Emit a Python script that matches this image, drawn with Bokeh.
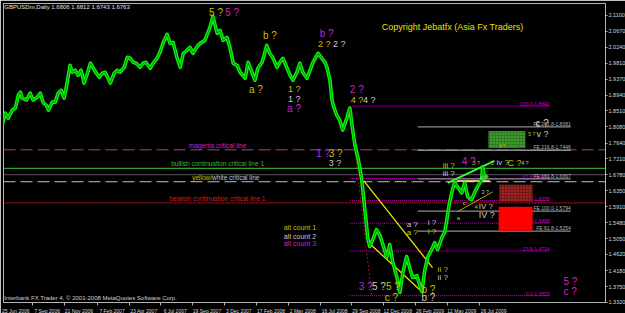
from bokeh.plotting import figure
from bokeh.models import Range1d, FixedTicker, NumeralTickFormatter, Span, Label, ColumnDataSource
from bokeh.core.properties import value
from bokeh.embed import file_html
from bokeh.resources import INLINE

# ---------------- data (x = calendar days after 25 Jun 2006, y = GBPUSD price) ----------------
bar_day = [2, 9, 16, 26, 33, 40, 45, 49, 59, 68,
           75, 85, 92, 99, 106, 111, 120, 127, 134, 141,
           148, 155, 162, 167, 174, 181, 188, 195, 203, 210,
           217, 224, 231, 238, 245, 257, 266, 273, 280, 290,
           297, 304, 311, 318, 327, 334, 341, 351, 358, 367,
           374, 382, 391, 398, 405, 414, 422, 429, 438, 445,
           452, 462, 469, 480, 492, 499, 509, 516, 523, 532,
           539, 547, 556, 563, 575, 582, 591, 598, 605, 615,
           626, 633, 641, 650, 657, 664, 674, 681, 688, 697,
           704, 711, 721, 728, 735, 747, 756, 763, 768, 775,
           780, 784, 791, 798, 805, 815, 822, 827, 834, 841,
           845, 850, 855, 860, 864, 869, 876, 885, 893, 900,
           909, 916, 923, 933, 940, 947, 956, 963, 970, 980,
           987, 992, 999, 1006, 1015, 1022, 1029, 1039, 1046, 1050,
           1057, 1064, 1069, 1076, 1086, 1093, 1100, 1109, 1116, 1123,
           1133, 1135, 1140, 1147]
close = [1.8128, 1.8452, 1.8317, 1.8534, 1.8588, 1.8939, 1.9020, 1.8858, 1.8804, 1.8993,
         1.8804, 1.8885, 1.8993, 1.8723, 1.8669, 1.8534, 1.8750, 1.8750, 1.8993, 1.9074,
         1.8858, 1.9263, 1.9749, 1.9560, 1.9614, 1.9479, 1.9614, 1.9263, 1.9533, 1.9803,
         1.9668, 1.9533, 1.9425, 1.9533, 1.9560, 1.9263, 1.9533, 1.9614, 1.9560, 1.9695,
         1.9965, 1.9938, 1.9830, 1.9803, 1.9695, 1.9803, 1.9830, 1.9668, 1.9803, 1.9938,
         2.0100, 2.0370, 2.0587, 2.0343, 2.0370, 1.9965, 1.9695, 2.0073, 2.0154, 2.0235,
         2.0073, 2.0262, 2.0343, 2.0424, 2.0776, 2.1073, 2.0614, 2.0695, 2.0424, 2.0506,
         2.0235, 1.9803, 1.9749, 1.9560, 1.9398, 1.9830, 1.9560, 1.9344, 1.9668, 1.9830,
         2.0289, 2.0073, 1.9938, 1.9695, 1.9830, 1.9938, 1.9668, 1.9479, 1.9344, 1.9560,
         1.9803, 1.9560, 1.9398, 1.9614, 1.9830, 2.0073, 1.9938, 1.9830, 1.9695, 1.9344,
         1.8804, 1.8615, 1.8398, 1.8263, 1.7993, 1.8317, 1.8588, 1.8128, 1.7588, 1.7237,
         1.6994, 1.6642, 1.6102, 1.5562, 1.5076, 1.4833, 1.5022, 1.5292, 1.5130, 1.4887,
         1.4535, 1.4887, 1.4427, 1.3995, 1.3590, 1.4130, 1.4562, 1.4265, 1.3995, 1.4049,
         1.3779, 1.3617, 1.4211, 1.4562, 1.4752, 1.4941, 1.4752, 1.5076, 1.5238, 1.5508,
         1.6021, 1.6372, 1.6561, 1.6453, 1.6291, 1.6561, 1.6183, 1.6102, 1.6291, 1.6453,
         1.6642, 1.6994, 1.6697, 1.6763]

tick_labels = ["25 Jun 2006", "7 Sep 2006", "21 Nov 2006", "7 Feb 2007", "23 Apr 2007", "6 Jul 2007",
               "19 Sep 2007", "3 Dec 2007", "17 Feb 2008", "2 May 2008", "16 Jul 2008", "29 Sep 2008",
               "12 Dec 2008", "26 Feb 2009", "12 May 2009", "26 Jul 2009"]
tick_day = [0, 74, 149, 227, 302, 376, 451, 526, 602, 677, 752, 827, 901, 977, 1052, 1127]

price_ticks = [2.1100, 2.0670, 2.0240, 1.9810, 1.9370, 1.8940, 1.8510, 1.8080, 1.7640, 1.7210,
               1.6780, 1.6350, 1.5910, 1.5480, 1.5050, 1.4620, 1.4180, 1.3750, 1.3320]

# critical horizontal lines
crit_price = [1.7457, 1.6954, 1.6783, 1.6592, 1.6018]
crit_label = ["1.7457", "1.6954", "1.6783", "1.6592", "1.6018"]

# fibonacci retracement (magenta) and expansion (grey) levels
fib_price = [1.8642, 1.6679, 1.6078, 1.5468, 1.4714, 1.3503]
fib_label = ["100.0-1.8642", "61.8-1.6679", "50.0-1.6078", "38.2-1.5468", "23.6-1.4714", "0.0-1.3503"]
fib_from, fib_to = 822, 1293
fe_price = [1.8081, 1.7446, 1.6667, 1.5794, 1.5254]
fe_label = ["FE 261.8-1.8081", "FE 216.8-1.7446", "FE 161.8-1.6667", "FE 100.0-1.5794", "FE 61.8-1.5254"]
fe_from, fe_to = 982, 1343

# target zones
zone_left = [1149, 1175, 1173]
zone_right = [1236, 1253, 1253]
zone_top = [1.7966, 1.6507, 1.5913]
zone_bottom = [1.7507, 1.6048, 1.5265]

# trend lines
tl_x0 = [855, 869, 1053, 1074, 1076]
tl_x1 = [1017, 994, 1163, 1152, 1159]
tl_y0 = [1.6615, 1.4913, 1.6561, 1.6615, 1.5778]
tl_y1 = [1.4265, 1.3590, 1.7156, 1.6615, 1.6318]
fib_anchor_day = [822, 874]
fib_anchor_price = [1.8642, 1.3482]

# Elliott wave labels
wave_text = ["5 ?", "5 ?", "b ?", "b ?", "2 ?", "2 ?", "a ?", "1 ?", "1 ?", "a ?",
             "2 ?", "4 ?", "4 ?", "1 ?", "3 ?", "3 ?", "iii ?", "iii ?", "4 ?", "3 ?",
             "5", "iv ?", "C ?", "4 ?", "c ?", "5 ?", "v ?", "3 ?", "4 ?", "2 ?",
             "c", "a", "4", "IV ?", "IV ?", "a ?", "a ?", "i ?", "i ?", "ii ?",
             "ii ?", "3 ?", "5 ?", "5 ?", "c ?", "b ?", "b ?", "5 ?", "c ?"]
wave_day = [490, 528, 617, 751, 747, 782, 584, 676, 676, 674,
            822, 824, 853, 742, 772, 772, 1041, 1041, 1086, 1112,
            1154, 1168, 1194, 1227, 1260, 1243, 1262, 1173, 1128, 1133,
            1088, 1074, 1116, 1126, 1126, 956, 956, 1006, 1006, 1029,
            1029, 843, 874, 907, 904, 991, 991, 1326, 1326]
wave_price = [2.1181, 2.1181, 2.0560, 2.0614, 2.0316, 2.0316, 1.9101, 1.9101, 1.8831, 1.8587,
              1.9101, 1.8804, 1.8804, 1.7345, 1.7345, 1.7102, 1.7021, 1.6805, 1.7129, 1.7102,
              1.7102, 1.7102, 1.7102, 1.7102, 1.8182, 1.7890, 1.7890, 1.7561, 1.6697, 1.6318,
              1.6021, 1.5616, 1.5913, 1.5913, 1.5697, 1.5427, 1.5211, 1.5481, 1.5238, 1.4211,
              1.3995, 1.3752, 1.3752, 1.3752, 1.3455, 1.3671, 1.3455, 1.3887, 1.3617]
alt_text = ["alt count 1", "alt count 2", "alt count 3"]
alt_day = [666, 666, 666]
alt_price = [1.5346, 1.5103, 1.4916]

# ---------------- styles ----------------
YEL, WHT, MAG = "#c8c000", "#c8c8c8", "#cc22cc"
wave_col = "yMyMywyywM" "Mywmywywmy" "ywywwywyww" "yyywwwywyy" "wmwyyywMM"
cmap = {"y": YEL, "w": WHT, "m": MAG, "M": MAG}
wave_size = [10, 10, 10, 10, 9, 9, 10, 9, 9, 10,
             10, 9, 9, 10, 10, 9, 8, 8, 10, 5,
             6, 8, 9, 5, 10, 5, 9, 5, 5, 5,
             6, 6, 6, 8, 9, 8, 8, 8, 8, 8,
             8, 10, 10, 10, 10, 10, 10, 10, 10]
FONT = "Liberation Sans"
X_LO, X_HI = 5, 1425
Y_LO, Y_HI = 1.3318, 2.1424
FRAME_W, FRAME_H, BORDER = 602, 299, 3

p = figure(width=625, height=313, frame_width=FRAME_W, frame_height=FRAME_H,
           x_range=Range1d(X_LO, X_HI), y_range=Range1d(Y_LO, Y_HI),
           output_backend="svg", toolbar_location=None, y_axis_location="right",
           background_fill_color="black", border_fill_color="black",
           min_border_left=BORDER, min_border_top=BORDER, min_border_right=0, min_border_bottom=0)
p.xgrid.visible = False
p.ygrid.visible = False
p.outline_line_color = "#b4b4b4"

for ax in (p.xaxis[0], p.yaxis[0]):
    ax.axis_line_color = "#b4b4b4"
    ax.major_tick_line_color = "#b4b4b4"
    ax.minor_tick_line_color = "#b4b4b4"
    ax.major_label_text_color = "#d8d8d8"
    ax.major_label_text_font = FONT
    ax.major_label_text_font_size = "5.5px"
p.xaxis[0].major_label_text_font_size = "5px"

ya = p.yaxis[0]
ya.ticker = FixedTicker(ticks=price_ticks)
ya.formatter = NumeralTickFormatter(format="0.0000")
ya.major_tick_out = 2
ya.major_tick_in = 0
ya.minor_tick_out = 0
ya.major_label_standoff = 1

LABEL_SHIFT = 34
xa = p.xaxis[0]
xa.ticker = FixedTicker(ticks=[d + LABEL_SHIFT for d in tick_day], minor_ticks=tick_day)
xa.major_label_overrides = {d + LABEL_SHIFT: s for d, s in zip(tick_day, tick_labels)}
xa.major_tick_out = 0
xa.major_tick_in = 0
xa.minor_tick_out = 3
xa.minor_tick_in = 0
xa.major_label_standoff = 2

# critical lines
span_style = [("#a23ca0", "12 5", 1), ("#30a030", "solid", 1.2), ("#5a5a5a", "solid", 1),
              ("#c0c0c0", "12 5", 1), ("#b01010", "2 1", 1.2)]
for pr, (c, d, w) in zip(crit_price, span_style):
    p.add_layout(Span(location=pr, dimension="width", line_color=c, line_dash=d, line_width=w, level="underlay"))

NAME_X = 510
name_txt = ["magenta critical line", "bullish continuation critical line 1", "bearish continuation critical line 1"]
name_pr = [crit_price[0], crit_price[1], crit_price[4]]
name_col = [MAG, "#3cb43c", "#d02020"]
p.text(x=[NAME_X] * 3, y=name_pr, text=name_txt, text_color=name_col, text_align="center",
       text_baseline="bottom", y_offset=-1, text_font=value(FONT), text_font_size=value("6.5px"))
p.text(x=[497], y=[crit_price[3]], text=["yellow/"], text_color=YEL, text_align="right",
       text_baseline="bottom", y_offset=-1, text_font=value(FONT), text_font_size=value("6.5px"))
p.text(x=[497], y=[crit_price[3]], text=["white critical line"], text_color=WHT, text_align="left",
       text_baseline="bottom", y_offset=-1, text_font=value(FONT), text_font_size=value("6.5px"))

# fib levels
p.segment(x0=[fib_from] * len(fib_price), x1=[fib_to] * len(fib_price), y0=fib_price, y1=fib_price,
          line_color="#cc00cc", line_dash="1 1", line_width=1)
p.text(x=[fib_to] * len(fib_price), y=fib_price, text=fib_label, text_color="#cc00cc", text_align="right",
       text_baseline="bottom", text_font=value(FONT), text_font_size=value("5px"))
p.segment(x0=[fe_from] * len(fe_price), x1=[fe_to] * len(fe_price), y0=fe_price, y1=fe_price,
          line_color="#8c8c8c", line_width=1.3)
p.text(x=[fe_to] * len(fe_price), y=fe_price, text=fe_label, text_color="#b4b4b4", text_align="right",
       text_baseline="bottom", text_font=value(FONT), text_font_size=value("5px"))
p.line(fib_anchor_day, fib_anchor_price, line_color="#a01040", line_dash="2 2", line_width=1)

# zones
zsrc = ColumnDataSource(dict(left=zone_left, right=zone_right, top=zone_top, bottom=zone_bottom,
                             fill=["#2f7d22", "#7a1616", "#ff0000"],
                             hatch=["dot", "dot", " "],
                             hcol=["#5fc048", "#c04040", "#ff0000"]))
p.quad(left="left", right="right", top="top", bottom="bottom", source=zsrc, fill_color="fill",
       hatch_pattern="hatch", hatch_color="hcol", hatch_scale=3, hatch_weight=1, line_color=None)

# trend lines
p.segment(x0=tl_x0, y0=tl_y0, x1=tl_x1, y1=tl_y1,
          line_color=["#e6e600", "#e6e600", "#33ff33", "#ffff99", "#a8a800"],
          line_width=[1.3, 1.3, 1.8, 1.5, 1])

# price
p.line(bar_day, close, line_color="#00ff00", line_width=3.6, line_join="round")
p.line(bar_day, close, line_color="#168a16", line_width=1.1, line_join="round")

# wave labels
wsrc = ColumnDataSource(dict(x=wave_day, y=wave_price, t=wave_text,
                             c=[cmap[k] for k in wave_col], s=[f"{v}px" for v in wave_size]))
p.text(x="x", y="y", text="t", source=wsrc, text_color="c", text_font_size="s",
       text_font=value(FONT), text_align="left", text_baseline="middle")
p.text(x=alt_day, y=alt_price, text=alt_text, text_color=[YEL, WHT, MAG], text_font=value(FONT),
       text_font_size=value("7px"), text_align="left", text_baseline="middle")

# texts
p.add_layout(Label(x=7, y=2.1316, text="GBPUSDm,Daily  1.6806 1.6812 1.6743 1.6763", text_color="#e0e0e0",
                   text_font=FONT, text_font_size="6px", text_baseline="middle"))
p.add_layout(Label(x=897, y=2.0776, text="Copyright Jebatfx (Asia Fx Traders)", text_color="#e0e000",
                   text_font=FONT, text_font_size="9px", text_baseline="middle"))
p.add_layout(Label(x=7, y=1.3428, text="Interbank FX Trader 4, \u00a9 2001-2008 MetaQuotes Software Corp.",
                   text_color="#d0d0d0", text_font=FONT, text_font_size="6px", text_baseline="middle"))

# price tags on the axis (canvas units, mapped from the price through the same frame scale)
def canvas_y(price):
    return BORDER + (Y_HI - price) / (Y_HI - Y_LO) * FRAME_H

tag_bg = ["#cc00cc", "#00ff00", "#e8e8e8", "#e8e8e8", "#ff0000"]
tag_fg = ["white", "black", "black", "black", "white"]
for pr, t, bg, fg in zip(crit_price, crit_label, tag_bg, tag_fg):
    p.add_layout(Label(x=BORDER + FRAME_W + 1, y=canvas_y(pr), x_units="canvas", y_units="canvas",
                       text=t, text_color=fg, background_fill_color=bg,
                       text_font=FONT, text_font_size="5.5px", text_baseline="middle", level="overlay"))

open("out.html", "w").write(file_html(p, INLINE))
